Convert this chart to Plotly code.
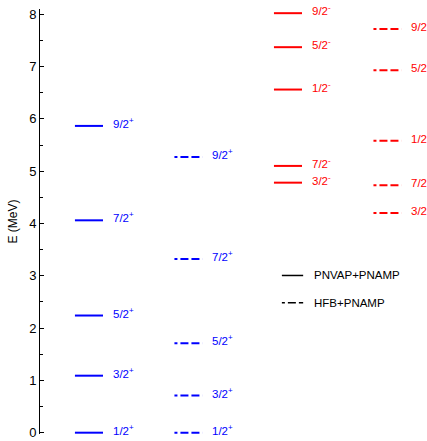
import plotly.graph_objects as go

# Energy levels (MeV)
pos_pnvap = [0.0, 1.09, 2.24, 4.06, 5.865]
pos_pnvap_labels = ["1/2<sup>+</sup>", "3/2<sup>+</sup>", "5/2<sup>+</sup>", "7/2<sup>+</sup>", "9/2<sup>+</sup>"]
pos_hfb = [0.0, 0.71, 1.71, 3.32, 5.27]
pos_hfb_labels = ["1/2<sup>+</sup>", "3/2<sup>+</sup>", "5/2<sup>+</sup>", "7/2<sup>+</sup>", "9/2<sup>+</sup>"]
neg_pnvap = [4.78, 5.10, 6.56, 7.37, 8.02]
neg_pnvap_labels = ["3/2<sup>-</sup>", "7/2<sup>-</sup>", "1/2<sup>-</sup>", "5/2<sup>-</sup>", "9/2<sup>-</sup>"]
neg_hfb = [4.20, 4.73, 5.58, 6.93, 7.72]
neg_hfb_labels = ["3/2<sup>-</sup>", "7/2<sup>-</sup>", "1/2<sup>-</sup>", "5/2<sup>-</sup>", "9/2<sup>-</sup>"]

DASH = "3px,3px,8px,3px,8px,3px"
columns = [
    (pos_pnvap, pos_pnvap_labels, "#0000ff", "solid"),
    (pos_hfb, pos_hfb_labels, "#0000ff", DASH),
    (neg_pnvap, neg_pnvap_labels, "#ff0000", "solid"),
    (neg_hfb, neg_hfb_labels, "#ff0000", DASH),
]

HW = 0.141
LBL = 0.22
FONT = "Liberation Sans, Arial, Helvetica, sans-serif"

fig = go.Figure()
annotations = []
for k, (vals, labels, color, dash) in enumerate(columns):
    xs, ys = [], []
    for v in vals:
        xs += [k - HW, k + HW, None]
        ys += [v, v, None]
    fig.add_trace(go.Scatter(x=xs, y=ys, mode="lines",
                             line=dict(color=color, width=2, dash=dash),
                             showlegend=False, hoverinfo="skip"))
    for v, lab in zip(vals, labels):
        annotations.append(dict(x=k + LBL, y=v, xref="x", yref="y", text=lab,
                                showarrow=False, xanchor="left", yanchor="middle",
                                yshift=3, font=dict(color=color, size=11.5, family=FONT)))

# legend (drawn in the plot area, paper coordinates)
legend_items = [("PNVAP+PNAMP", "solid", 0.373), ("HFB+PNAMP", DASH, 0.309)]
for name, dash, yp in legend_items:
    fig.add_shape(type="line", xref="paper", yref="paper", x0=0.625, x1=0.680,
                  y0=yp, y1=yp, line=dict(color="black", width=1.5, dash=dash))
    annotations.append(dict(x=0.702, y=yp, xref="paper", yref="paper", text=name,
                            showarrow=False, xanchor="left", yanchor="middle",
                            font=dict(color="black", size=11.5, family=FONT)))

fig.update_layout(
    width=427, height=441,
    margin=dict(l=40, r=0, t=9, b=7),
    paper_bgcolor="white", plot_bgcolor="white",
    showlegend=False,
    annotations=annotations,
    xaxis=dict(range=[-0.492, 3.397], visible=False),
    yaxis=dict(range=[-0.025, 8.1], showline=True, linecolor="black", linewidth=1,
               ticks="inside", ticklen=4, tickcolor="black", dtick=1, tick0=0,
               showgrid=False, zeroline=False,
               tickfont=dict(size=13, color="black", family=FONT),
               minor=dict(ticks="inside", ticklen=2.5, dtick=0.5, tickcolor="black", showgrid=False),
               title=dict(text="E (MeV)", font=dict(size=12, color="black", family=FONT), standoff=8)),
    font=dict(family=FONT),
)

fig.write_html("out.html")
